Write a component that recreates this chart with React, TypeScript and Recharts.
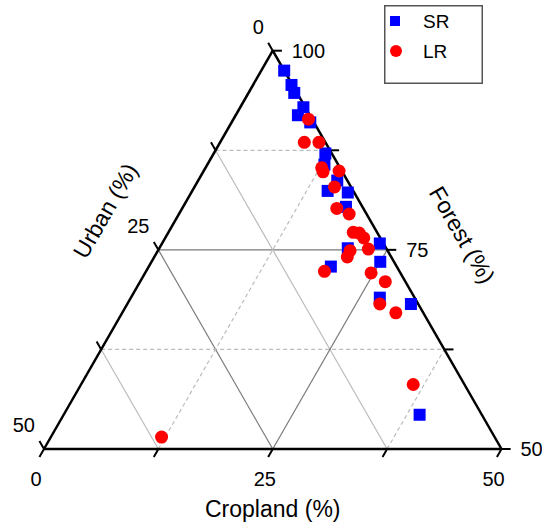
import { ScatterChart, Scatter, XAxis, YAxis, ReferenceLine, ReferenceDot, Legend } from "recharts";

// ternary values (forest = 100 - cropland - urban)
const SR_CROPLAND = [2.5, 4.2, 5.0, 6.9, 6.8, 8.6, 12.2, 12.8, 15.2, 14.8, 17.1, 17.8, 20.6, 23.8, 25.0, 19.9, 27.2, 31.0, 38.9];
const SR_URBAN = [0.0, 0.1, 0.3, 0.2, 1.3, 0.4, 0.7, 1.5, 1.1, 2.8, 0.7, 1.8, 4.2, 0.4, 1.5, 7.2, 3.8, 0.8, 6.8];
const LR_CROPLAND = [8.2, 9.2, 10.8, 12.7, 13.1, 14.8, 15.3, 16.9, 18.6, 20.2, 20.9, 21.7, 22.9, 21.0, 21.1, 19.5, 24.7, 26.8, 27.6, 29.9, 36.3, 12.1];
const LR_URBAN = [0.4, 2.3, 0.7, 2.0, 2.1, 0.3, 1.8, 2.9, 1.9, 2.6, 2.0, 1.8, 2.0, 4.1, 4.8, 8.2, 3.2, 2.2, 4.2, 3.0, 5.6, 36.4];

const SERIES_ORDER = ["SR", "LR"];
const GRID_STEPS = [12.5, 25, 37.5];
const TICK_STEPS = [0, 12.5, 25, 37.5, 50];
const LABEL_STEPS = [0, 25, 50];

const FONT = "'Liberation Sans', Arial, sans-serif";
const DARK = "#7a7a7a";
const LIGHT = "#bcbcbc";

// cropland/urban -> cartesian (x: -25..25, y: 0..50 which is forest-50)
const toXY = (c: number, u: number) => ({ x: (c - u) / 2, y: 50 - c - u });

const srData = SR_CROPLAND.map((c, i) => toXY(c, SR_URBAN[i]));
const lrData = LR_CROPLAND.map((c, i) => toXY(c, LR_URBAN[i]));

// gridline segments for each component
const forestLine = (v: number) => [toXY(0, v), toXY(v, 0)]; // v = 100 - forest
const urbanLine = (u: number) => [toXY(0, u), toXY(50 - u, u)];
const cropLine = (c: number) => [toXY(c, 50 - c), toXY(c, 0)];

const shift = (p: { x: number; y: number }, dx: number, dy: number) => ({ x: p.x + dx, y: p.y + dy });

function label(text: string, dx: number, dy: number, anchor: string, size = 20, rotate = 0) {
  return (p: any) => {
    const x = p.cx + dx;
    const y = p.cy + dy;
    return (
      <text
        x={x}
        y={y}
        textAnchor={anchor}
        dominantBaseline="central"
        fontFamily={FONT}
        fontSize={size}
        fill="#000"
        transform={rotate ? `rotate(${rotate} ${x} ${y})` : undefined}
      >
        {text}
      </text>
    );
  };
}

function renderLegend(props: any) {
  const items = [...(props.payload || [])].sort((a: any, b: any) => SERIES_ORDER.indexOf(a.value) - SERIES_ORDER.indexOf(b.value));
  return (
    <svg width={99} height={79} style={{ display: "block" }}>
      <rect x={0.75} y={0.75} width={97.5} height={77.5} fill="#fff" stroke="#555" strokeWidth={1.5} />
      {items.map((it: any, i: number) => {
        const cy = 16 + i * 30;
        return (
          <g key={it.value}>
            {it.type === "square" ? (
              <rect x={6} y={cy - 5} width={10} height={10} fill={it.color} />
            ) : (
              <circle cx={12} cy={cy} r={6} fill={it.color} />
            )}
            <text x={39} y={cy} dominantBaseline="central" fontFamily={FONT} fontSize={19}>
              {it.value}
            </text>
          </g>
        );
      })}
    </svg>
  );
}

export default function App() {
  return (
    <div style={{ position: "absolute", left: 0, top: 0, background: "#fff" }}>
      <ScatterChart width={542} height={527} margin={{ top: 50.7, right: 40.5, bottom: 78, left: 44 }}>
        <XAxis type="number" dataKey="x" domain={[-25, 25]} hide />
        <YAxis type="number" dataKey="y" domain={[0, 50]} hide />

        {GRID_STEPS.map((v) => (
          <ReferenceLine key={`f${v}`} segment={forestLine(v)} stroke={v === 25 ? DARK : LIGHT} strokeWidth={1.2} strokeDasharray={v === 25 ? undefined : "4 3"} ifOverflow="visible" />
        ))}
        {GRID_STEPS.map((v) => (
          <ReferenceLine key={`u${v}`} segment={urbanLine(v)} stroke={v === 25 ? DARK : LIGHT} strokeWidth={1.2} ifOverflow="visible" />
        ))}
        {GRID_STEPS.map((v) => (
          <ReferenceLine key={`c${v}`} segment={cropLine(v)} stroke={v === 25 ? DARK : LIGHT} strokeWidth={1.2} strokeDasharray={v === 25 ? undefined : "4 3"} ifOverflow="visible" />
        ))}

        {/* triangle */}
        <ReferenceLine segment={[toXY(0, 0), toXY(0, 50)]} stroke="#000" strokeWidth={2.5} ifOverflow="visible" />
        <ReferenceLine segment={[toXY(0, 50), toXY(50, 0)]} stroke="#000" strokeWidth={2.5} ifOverflow="visible" />
        <ReferenceLine segment={[toXY(50, 0), toXY(0, 0)]} stroke="#000" strokeWidth={2.5} ifOverflow="visible" />

        {/* ticks */}
        {TICK_STEPS.map((v) => (
          <ReferenceLine key={`tf${v}`} segment={[toXY(v, 0), shift(toXY(v, 0), 1, 0)]} stroke="#000" strokeWidth={2} ifOverflow="visible" />
        ))}
        {TICK_STEPS.map((v) => (
          <ReferenceLine key={`tu${v}`} segment={[toXY(0, v), shift(toXY(0, v), -0.5, 1)]} stroke="#000" strokeWidth={2} ifOverflow="visible" />
        ))}
        {TICK_STEPS.map((v) => (
          <ReferenceLine key={`tc${v}`} segment={[toXY(v, 50 - v), shift(toXY(v, 50 - v), -0.5, -1)]} stroke="#000" strokeWidth={2} ifOverflow="visible" />
        ))}

        {/* tick labels */}
        {LABEL_STEPS.map((v) => (
          <ReferenceDot key={`lf${v}`} {...toXY(v, 0)} r={0} ifOverflow="visible" shape={label(String(100 - v), 19, 0, "start")} />
        ))}
        {LABEL_STEPS.map((v) => (
          <ReferenceDot key={`lu${v}`} {...toXY(0, v)} r={0} ifOverflow="visible" shape={label(String(v), -9, -24, "end")} />
        ))}
        {LABEL_STEPS.map((v) => (
          <ReferenceDot key={`lc${v}`} {...toXY(v, 50 - v)} r={0} ifOverflow="visible" shape={label(String(v), -8, 30, "middle")} />
        ))}

        {/* axis titles */}
        <ReferenceDot {...toXY(25, 25)} r={0} ifOverflow="visible" shape={label("Cropland (%)", 0, 60, "middle", 23)} />
        <ReferenceDot {...toXY(0, 25)} r={0} ifOverflow="visible" shape={label("Urban (%)", -53, -39, "middle", 23, -60)} />
        <ReferenceDot {...toXY(25, 0)} r={0} ifOverflow="visible" shape={label("Forest (%)", 75, -15, "middle", 23, 60)} />

        <Scatter
          name="SR"
          data={srData}
          fill="#0000ff"
          legendType="square"
          isAnimationActive={false}
          shape={(p: any) => <rect x={p.cx - 6} y={p.cy - 6} width={12} height={12} fill="#0000ff" />}
        />
        <Scatter
          name="LR"
          data={lrData}
          fill="#ff0000"
          legendType="circle"
          isAnimationActive={false}
          shape={(p: any) => <circle cx={p.cx} cy={p.cy} r={6.5} fill="#ff0000" />}
        />

        <Legend layout="horizontal" verticalAlign="middle" align="center" wrapperStyle={{ left: 384, top: 5, width: 99, height: 79 }} content={renderLegend} />
      </ScatterChart>
    </div>
  );
}
